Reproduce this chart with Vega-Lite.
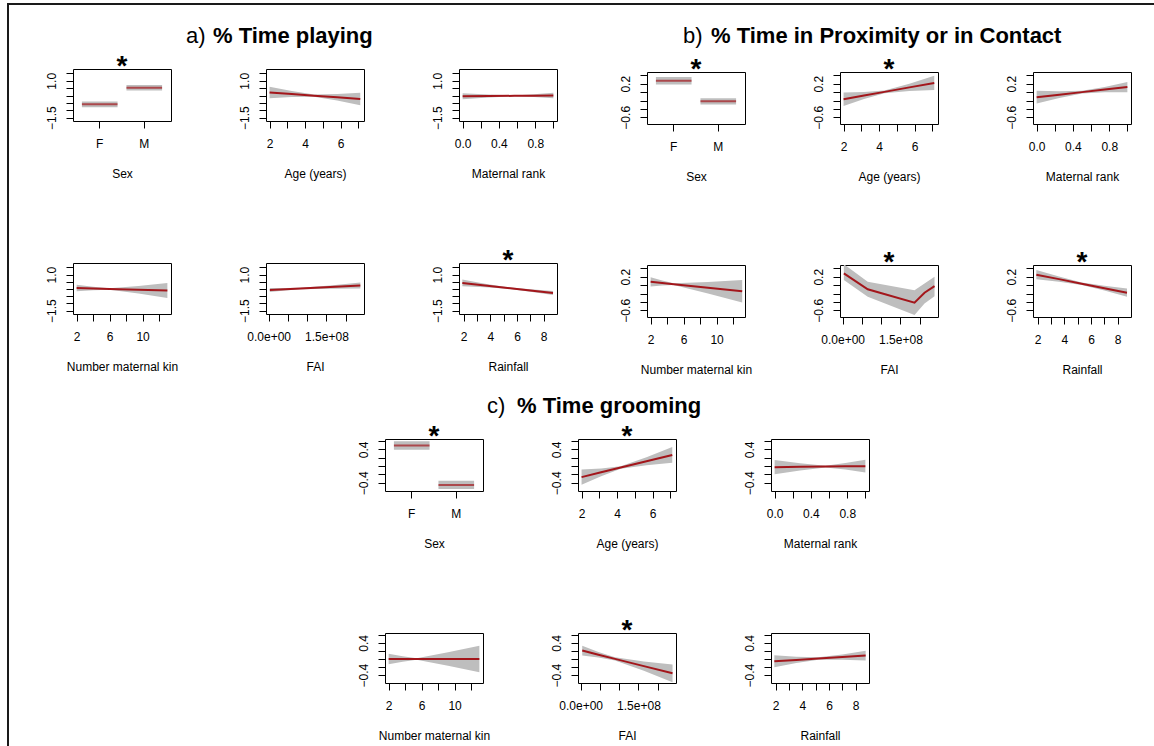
{
  "$schema": "https://vega.github.io/schema/vega-lite/v6.json",
  "padding": {"left": 7, "top": 3, "right": 0, "bottom": 0},
  "background": "white",
  "bounds": "flush",
  "spacing": 0,
  "datasets": {
    "fx": [
      {"g": "a", "v": "Sex", "sex": "F", "fit": -0.6, "lo": -0.79, "hi": -0.41},
      {"g": "a", "v": "Sex", "sex": "M", "fit": 0.53, "lo": 0.34, "hi": 0.72},
      {"g": "a", "v": "Age", "x": 2.0, "fit": 0.21, "lo": -0.18, "hi": 0.6},
      {"g": "a", "v": "Age", "x": 3.25, "fit": 0.1, "lo": -0.107, "hi": 0.307},
      {"g": "a", "v": "Age", "x": 4.5, "fit": -0.01, "lo": -0.09, "hi": 0.07},
      {"g": "a", "v": "Age", "x": 5.8, "fit": -0.125, "lo": -0.346, "hi": 0.096},
      {"g": "a", "v": "Age", "x": 7.1, "fit": -0.24, "lo": -0.66, "hi": 0.18},
      {"g": "a", "v": "Rank", "x": 0, "fit": -0.05, "lo": -0.25, "hi": 0.15},
      {"g": "a", "v": "Rank", "x": 0.285, "fit": -0.036, "lo": -0.139, "hi": 0.067},
      {"g": "a", "v": "Rank", "x": 0.57, "fit": -0.022, "lo": -0.052, "hi": 0.008},
      {"g": "a", "v": "Rank", "x": 0.785, "fit": -0.011, "lo": -0.105, "hi": 0.083},
      {"g": "a", "v": "Rank", "x": 1, "fit": 0, "lo": -0.18, "hi": 0.18},
      {"g": "a", "v": "Kin", "x": 2, "fit": 0.07, "lo": -0.16, "hi": 0.3},
      {"g": "a", "v": "Kin", "x": 4, "fit": 0.037, "lo": -0.086, "hi": 0.16},
      {"g": "a", "v": "Kin", "x": 6, "fit": 0.005, "lo": -0.045, "hi": 0.055},
      {"g": "a", "v": "Kin", "x": 9.5, "fit": -0.053, "lo": -0.317, "hi": 0.211},
      {"g": "a", "v": "Kin", "x": 13, "fit": -0.11, "lo": -0.63, "hi": 0.41},
      {"g": "a", "v": "FAI", "x": 3000000, "fit": -0.07, "lo": -0.21, "hi": 0.07},
      {"g": "a", "v": "FAI", "x": 43000000, "fit": -0.017, "lo": -0.099, "hi": 0.065},
      {"g": "a", "v": "FAI", "x": 82500000, "fit": 0.035, "lo": -0.015, "hi": 0.085},
      {"g": "a", "v": "FAI", "x": 160000000, "fit": 0.137, "lo": 0.024, "hi": 0.25},
      {"g": "a", "v": "FAI", "x": 238000000, "fit": 0.24, "lo": 0.03, "hi": 0.45},
      {"g": "a", "v": "Rain", "x": 1.9, "fit": 0.42, "lo": 0.19, "hi": 0.65},
      {"g": "a", "v": "Rain", "x": 3.6, "fit": 0.245, "lo": 0.122, "hi": 0.368},
      {"g": "a", "v": "Rain", "x": 5.3, "fit": 0.07, "lo": 0.02, "hi": 0.12},
      {"g": "a", "v": "Rain", "x": 7.0, "fit": -0.105, "lo": -0.187, "hi": -0.023},
      {"g": "a", "v": "Rain", "x": 8.7, "fit": -0.28, "lo": -0.42, "hi": -0.14},
      {"g": "b", "v": "Sex", "sex": "F", "fit": 0.27, "lo": 0.18, "hi": 0.36},
      {"g": "b", "v": "Sex", "sex": "M", "fit": -0.22, "lo": -0.295, "hi": -0.145},
      {"g": "b", "v": "Age", "x": 2.0, "fit": -0.17, "lo": -0.33, "hi": -0.01},
      {"g": "b", "v": "Age", "x": 3.15, "fit": -0.082, "lo": -0.166, "hi": 0.002},
      {"g": "b", "v": "Age", "x": 4.3, "fit": 0.006, "lo": -0.024, "hi": 0.036},
      {"g": "b", "v": "Age", "x": 5.7, "fit": 0.113, "lo": 0.024, "hi": 0.202},
      {"g": "b", "v": "Age", "x": 7.1, "fit": 0.22, "lo": 0.05, "hi": 0.39},
      {"g": "b", "v": "Rank", "x": 0, "fit": -0.12, "lo": -0.27, "hi": 0.03},
      {"g": "b", "v": "Rank", "x": 0.25, "fit": -0.06, "lo": -0.139, "hi": 0.019},
      {"g": "b", "v": "Rank", "x": 0.5, "fit": 0, "lo": -0.03, "hi": 0.03},
      {"g": "b", "v": "Rank", "x": 0.75, "fit": 0.06, "lo": -0.005, "hi": 0.125},
      {"g": "b", "v": "Rank", "x": 1, "fit": 0.12, "lo": 0, "hi": 0.24},
      {"g": "b", "v": "Kin", "x": 2, "fit": 0.08, "lo": -0.03, "hi": 0.19},
      {"g": "b", "v": "Kin", "x": 3.4, "fit": 0.052, "lo": -0.006, "hi": 0.11},
      {"g": "b", "v": "Kin", "x": 4.8, "fit": 0.023, "lo": 0.003, "hi": 0.043},
      {"g": "b", "v": "Kin", "x": 8.95, "fit": -0.061, "lo": -0.197, "hi": 0.075},
      {"g": "b", "v": "Kin", "x": 13.1, "fit": -0.145, "lo": -0.415, "hi": 0.125},
      {"g": "b", "v": "FAI", "x": 3000000, "fit": 0.28, "lo": 0.12, "hi": 0.5},
      {"g": "b", "v": "FAI", "x": 65000000, "fit": -0.1, "lo": -0.28, "hi": 0.08},
      {"g": "b", "v": "FAI", "x": 186500000, "fit": -0.42, "lo": -0.71, "hi": -0.12},
      {"g": "b", "v": "FAI", "x": 212500000, "fit": -0.18, "lo": -0.44, "hi": 0.04},
      {"g": "b", "v": "FAI", "x": 238500000, "fit": -0.025, "lo": -0.265, "hi": 0.2},
      {"g": "b", "v": "Rain", "x": 1.9, "fit": 0.25, "lo": 0.14, "hi": 0.36},
      {"g": "b", "v": "Rain", "x": 3.6, "fit": 0.143, "lo": 0.082, "hi": 0.204},
      {"g": "b", "v": "Rain", "x": 5.3, "fit": 0.035, "lo": 0.005, "hi": 0.065},
      {"g": "b", "v": "Rain", "x": 7.0, "fit": -0.072, "lo": -0.128, "hi": -0.016},
      {"g": "b", "v": "Rain", "x": 8.7, "fit": -0.18, "lo": -0.28, "hi": -0.08},
      {"g": "c", "v": "Sex", "sex": "F", "fit": 0.49, "lo": 0.39, "hi": 0.59},
      {"g": "c", "v": "Sex", "sex": "M", "fit": -0.45, "lo": -0.55, "hi": -0.35},
      {"g": "c", "v": "Age", "x": 2.0, "fit": -0.264, "lo": -0.444, "hi": -0.084},
      {"g": "c", "v": "Age", "x": 3.1, "fit": -0.15, "lo": -0.244, "hi": -0.056},
      {"g": "c", "v": "Age", "x": 4.2, "fit": -0.035, "lo": -0.065, "hi": -0.005},
      {"g": "c", "v": "Age", "x": 5.65, "fit": 0.115, "lo": 0.017, "hi": 0.213},
      {"g": "c", "v": "Age", "x": 7.1, "fit": 0.266, "lo": 0.076, "hi": 0.456},
      {"g": "c", "v": "Rank", "x": 0, "fit": -0.026, "lo": -0.196, "hi": 0.144},
      {"g": "c", "v": "Rank", "x": 0.28, "fit": -0.019, "lo": -0.106, "hi": 0.068},
      {"g": "c", "v": "Rank", "x": 0.56, "fit": -0.013, "lo": -0.033, "hi": 0.007},
      {"g": "c", "v": "Rank", "x": 0.78, "fit": -0.007, "lo": -0.084, "hi": 0.07},
      {"g": "c", "v": "Rank", "x": 1, "fit": -0.002, "lo": -0.152, "hi": 0.148},
      {"g": "c", "v": "Kin", "x": 2, "fit": 0, "lo": -0.13, "hi": 0.13},
      {"g": "c", "v": "Kin", "x": 3.7, "fit": 0, "lo": -0.067, "hi": 0.067},
      {"g": "c", "v": "Kin", "x": 5.4, "fit": 0, "lo": -0.02, "hi": 0.02},
      {"g": "c", "v": "Kin", "x": 9.2, "fit": 0, "lo": -0.166, "hi": 0.166},
      {"g": "c", "v": "Kin", "x": 13, "fit": 0, "lo": -0.33, "hi": 0.33},
      {"g": "c", "v": "FAI", "x": 4000000, "fit": 0.21, "lo": 0.09, "hi": 0.33},
      {"g": "c", "v": "FAI", "x": 46000000, "fit": 0.107, "lo": 0.038, "hi": 0.176},
      {"g": "c", "v": "FAI", "x": 89000000, "fit": 0.003, "lo": -0.037, "hi": 0.043},
      {"g": "c", "v": "FAI", "x": 164000000, "fit": -0.177, "lo": -0.292, "hi": -0.062},
      {"g": "c", "v": "FAI", "x": 238500000, "fit": -0.355, "lo": -0.575, "hi": -0.135},
      {"g": "c", "v": "Rain", "x": 1.9, "fit": -0.057, "lo": -0.207, "hi": 0.093},
      {"g": "c", "v": "Rain", "x": 3.55, "fit": -0.023, "lo": -0.102, "hi": 0.056},
      {"g": "c", "v": "Rain", "x": 5.2, "fit": 0.011, "lo": -0.019, "hi": 0.041},
      {"g": "c", "v": "Rain", "x": 7.0, "fit": 0.048, "lo": -0.017, "hi": 0.113},
      {"g": "c", "v": "Rain", "x": 8.75, "fit": 0.085, "lo": -0.035, "hi": 0.205}
    ]
  },
  "config": {
    "font": "Liberation Sans",
    "view": {"stroke": "black", "strokeWidth": 1},
    "axis": {"grid": false, "domain": false, "ticks": true, "tickColor": "black", "tickSize": 7, "tickWidth": 1, "labelFont": "Liberation Sans", "labelFontSize": 12, "labelColor": "black", "labelOverlap": false, "labelFlush": false, "titleFont": "Liberation Sans", "titleFontSize": 12, "titleFontWeight": "normal", "titleColor": "black"},
    "axisX": {"labelPadding": 10, "titlePadding": 19.5},
    "axisY": {"labelAngle": 270, "labelAlign": "center", "labelBaseline": "alphabetic", "labelPadding": 11},
    "area": {"color": "#bebebe"},
    "bar": {"color": "#bebebe"},
    "line": {"color": "#a3161b", "strokeWidth": 2},
    "tick": {"color": "#a3161b"},
    "title": {"font": "Liberation Sans", "fontSize": 28, "fontWeight": "bold", "color": "black", "anchor": "middle", "frame": "group", "offset": -12}
  },
  "vconcat": [
    {"bounds": "flush", "spacing": 0, "hconcat": [
      {"width": 1160, "height": 760, "view": {"stroke": "#1a1a1a", "strokeWidth": 2}, "data": {"values": []}, "mark": "point", "encoding": {}}
    ]},
    {"width": 1, "height": 43.9, "view": {"stroke": null}, "data": {"values": []}, "mark": "point", "encoding": {}},
    {"bounds": "flush", "spacing": 0, "hconcat": [
      {"width": 177.7, "height": 1, "view": {"stroke": null}, "data": {"values": []}, "mark": "point", "encoding": {}},
      {"width": 26.3, "height": 1, "view": {"stroke": null}, "data": {"values": []}, "mark": "point", "encoding": {}, "title": {"text": "a)", "fontSize": 22, "fontWeight": "normal", "anchor": "start", "offset": 0}},
      {"width": 1, "height": 1, "view": {"stroke": null}, "data": {"values": []}, "mark": "point", "encoding": {}, "title": {"text": "% Time playing", "fontSize": 22, "fontWeight": "bold", "anchor": "start", "offset": 0}},
      {"width": 468.7, "height": 1, "view": {"stroke": null}, "data": {"values": []}, "mark": "point", "encoding": {}},
      {"width": 27.3, "height": 1, "view": {"stroke": null}, "data": {"values": []}, "mark": "point", "encoding": {}, "title": {"text": "b)", "fontSize": 22, "fontWeight": "normal", "anchor": "start", "offset": 0}},
      {"width": 1, "height": 1, "view": {"stroke": null}, "data": {"values": []}, "mark": "point", "encoding": {}, "title": {"text": "% Time in Proximity or in Contact", "fontSize": 22, "fontWeight": "bold", "anchor": "start", "offset": 0}}
    ]},
    {"width": 1, "height": 20.4, "view": {"stroke": null}, "data": {"values": []}, "mark": "point", "encoding": {}},
    {"bounds": "flush", "spacing": 0, "hconcat": [
      {"width": 65, "height": 1, "view": {"stroke": null}, "data": {"values": []}, "mark": "point", "encoding": {}},
      {"width": 98, "height": 52, "title": "*", "data": {"name": "fx"}, "transform": [{"filter": "datum.g=='a' && datum.v=='Sex'"}],
       "encoding": {"x": {"field": "sex", "type": "nominal", "scale": {"type": "band", "paddingInner": 0.2, "paddingOuter": 0.2}, "axis": {"title": "Sex", "labelAngle": 0}}},
       "layer": [
         {"mark": {"type": "bar", "clip": true}, "encoding": {"y": {"field": "lo", "type": "quantitative", "scale": {"domain": [-1.73, 1.8], "nice": false, "zero": false}, "axis": {"title": null, "values": [-1.5, -1, -0.5, 0, 0.5, 1, 1.5], "labelExpr": "datum.value == 1 ? '1.0' : datum.value == -1.5 ? '−1.5' : ''"}}, "y2": {"field": "hi"}}},
         {"mark": {"type": "tick", "size": 35.6, "thickness": 2, "clip": true}, "encoding": {"y": {"field": "fit", "type": "quantitative", "scale": {"domain": [-1.73, 1.8], "nice": false, "zero": false}, "axis": {"title": null, "values": [-1.5, -1, -0.5, 0, 0.5, 1, 1.5], "labelExpr": "datum.value == 1 ? '1.0' : datum.value == -1.5 ? '−1.5' : ''"}}}}
       ]},
      {"width": 94.5, "height": 1, "view": {"stroke": null}, "data": {"values": []}, "mark": "point", "encoding": {}},
      {"width": 98, "height": 52, "data": {"name": "fx"}, "transform": [{"filter": "datum.g=='a' && datum.v=='Age'"}],
       "encoding": {"x": {"field": "x", "type": "quantitative", "scale": {"domain": [1.8, 7.31], "nice": false, "zero": false}, "axis": {"title": "Age (years)", "values": [2, 3, 4, 5, 6, 7], "labelExpr": "datum.value % 2 == 0 ? datum.label : ''"}}},
       "layer": [
         {"mark": {"type": "area", "clip": true}, "encoding": {"y": {"field": "lo", "type": "quantitative", "scale": {"domain": [-1.73, 1.8], "nice": false, "zero": false}, "axis": {"title": null, "values": [-1.5, -1, -0.5, 0, 0.5, 1, 1.5], "labelExpr": "datum.value == 1 ? '1.0' : datum.value == -1.5 ? '−1.5' : ''"}}, "y2": {"field": "hi"}}},
         {"mark": {"type": "line", "clip": true}, "encoding": {"y": {"field": "fit", "type": "quantitative", "scale": {"domain": [-1.73, 1.8], "nice": false, "zero": false}, "axis": {"title": null, "values": [-1.5, -1, -0.5, 0, 0.5, 1, 1.5], "labelExpr": "datum.value == 1 ? '1.0' : datum.value == -1.5 ? '−1.5' : ''"}}}}
       ]},
      {"width": 94.5, "height": 1, "view": {"stroke": null}, "data": {"values": []}, "mark": "point", "encoding": {}},
      {"width": 98, "height": 52, "data": {"name": "fx"}, "transform": [{"filter": "datum.g=='a' && datum.v=='Rank'"}],
       "encoding": {"x": {"field": "x", "type": "quantitative", "scale": {"domain": [-0.04, 1.04], "nice": false, "zero": false}, "axis": {"title": "Maternal rank", "values": [0, 0.2, 0.4, 0.6, 0.8, 1], "labelExpr": "datum.value == 0 ? '0.0' : (datum.value == 0.4 || datum.value == 0.8) ? datum.label : ''"}}},
       "layer": [
         {"mark": {"type": "area", "clip": true}, "encoding": {"y": {"field": "lo", "type": "quantitative", "scale": {"domain": [-1.73, 1.8], "nice": false, "zero": false}, "axis": {"title": null, "values": [-1.5, -1, -0.5, 0, 0.5, 1, 1.5], "labelExpr": "datum.value == 1 ? '1.0' : datum.value == -1.5 ? '−1.5' : ''"}}, "y2": {"field": "hi"}}},
         {"mark": {"type": "line", "clip": true}, "encoding": {"y": {"field": "fit", "type": "quantitative", "scale": {"domain": [-1.73, 1.8], "nice": false, "zero": false}, "axis": {"title": null, "values": [-1.5, -1, -0.5, 0, 0.5, 1, 1.5], "labelExpr": "datum.value == 1 ? '1.0' : datum.value == -1.5 ? '−1.5' : ''"}}}}
       ]}
    ]},
    {"width": 1, "height": 2.4, "view": {"stroke": null}, "data": {"values": []}, "mark": "point", "encoding": {}},
    {"bounds": "flush", "spacing": 0, "hconcat": [
      {"width": 638.7, "height": 1, "view": {"stroke": null}, "data": {"values": []}, "mark": "point", "encoding": {}},
      {"width": 98, "height": 52, "title": "*", "data": {"name": "fx"}, "transform": [{"filter": "datum.g=='b' && datum.v=='Sex'"}],
       "encoding": {"x": {"field": "sex", "type": "nominal", "scale": {"type": "band", "paddingInner": 0.2, "paddingOuter": 0.2}, "axis": {"title": "Sex", "labelAngle": 0}}},
       "layer": [
         {"mark": {"type": "bar", "clip": true}, "encoding": {"y": {"field": "lo", "type": "quantitative", "scale": {"domain": [-0.76, 0.48], "nice": false, "zero": false}, "axis": {"title": null, "values": [-0.6, -0.4, -0.2, 0, 0.2, 0.4], "labelExpr": "datum.value == 0.2 ? '0.2' : datum.value == -0.6 ? '−0.6' : ''"}}, "y2": {"field": "hi"}}},
         {"mark": {"type": "tick", "size": 35.6, "thickness": 2, "clip": true}, "encoding": {"y": {"field": "fit", "type": "quantitative", "scale": {"domain": [-0.76, 0.48], "nice": false, "zero": false}, "axis": {"title": null, "values": [-0.6, -0.4, -0.2, 0, 0.2, 0.4], "labelExpr": "datum.value == 0.2 ? '0.2' : datum.value == -0.6 ? '−0.6' : ''"}}}}
       ]},
      {"width": 94.5, "height": 1, "view": {"stroke": null}, "data": {"values": []}, "mark": "point", "encoding": {}},
      {"width": 98, "height": 52, "title": "*", "data": {"name": "fx"}, "transform": [{"filter": "datum.g=='b' && datum.v=='Age'"}],
       "encoding": {"x": {"field": "x", "type": "quantitative", "scale": {"domain": [1.8, 7.31], "nice": false, "zero": false}, "axis": {"title": "Age (years)", "values": [2, 3, 4, 5, 6, 7], "labelExpr": "datum.value % 2 == 0 ? datum.label : ''"}}},
       "layer": [
         {"mark": {"type": "area", "clip": true}, "encoding": {"y": {"field": "lo", "type": "quantitative", "scale": {"domain": [-0.76, 0.48], "nice": false, "zero": false}, "axis": {"title": null, "values": [-0.6, -0.4, -0.2, 0, 0.2, 0.4], "labelExpr": "datum.value == 0.2 ? '0.2' : datum.value == -0.6 ? '−0.6' : ''"}}, "y2": {"field": "hi"}}},
         {"mark": {"type": "line", "clip": true}, "encoding": {"y": {"field": "fit", "type": "quantitative", "scale": {"domain": [-0.76, 0.48], "nice": false, "zero": false}, "axis": {"title": null, "values": [-0.6, -0.4, -0.2, 0, 0.2, 0.4], "labelExpr": "datum.value == 0.2 ? '0.2' : datum.value == -0.6 ? '−0.6' : ''"}}}}
       ]},
      {"width": 94.5, "height": 1, "view": {"stroke": null}, "data": {"values": []}, "mark": "point", "encoding": {}},
      {"width": 98, "height": 52, "data": {"name": "fx"}, "transform": [{"filter": "datum.g=='b' && datum.v=='Rank'"}],
       "encoding": {"x": {"field": "x", "type": "quantitative", "scale": {"domain": [-0.04, 1.04], "nice": false, "zero": false}, "axis": {"title": "Maternal rank", "values": [0, 0.2, 0.4, 0.6, 0.8, 1], "labelExpr": "datum.value == 0 ? '0.0' : (datum.value == 0.4 || datum.value == 0.8) ? datum.label : ''"}}},
       "layer": [
         {"mark": {"type": "area", "clip": true}, "encoding": {"y": {"field": "lo", "type": "quantitative", "scale": {"domain": [-0.76, 0.48], "nice": false, "zero": false}, "axis": {"title": null, "values": [-0.6, -0.4, -0.2, 0, 0.2, 0.4], "labelExpr": "datum.value == 0.2 ? '0.2' : datum.value == -0.6 ? '−0.6' : ''"}}, "y2": {"field": "hi"}}},
         {"mark": {"type": "line", "clip": true}, "encoding": {"y": {"field": "fit", "type": "quantitative", "scale": {"domain": [-0.76, 0.48], "nice": false, "zero": false}, "axis": {"title": null, "values": [-0.6, -0.4, -0.2, 0, 0.2, 0.4], "labelExpr": "datum.value == 0.2 ? '0.2' : datum.value == -0.6 ? '−0.6' : ''"}}}}
       ]}
    ]},
    {"width": 1, "height": 191, "view": {"stroke": null}, "data": {"values": []}, "mark": "point", "encoding": {}},
    {"bounds": "flush", "spacing": 0, "hconcat": [
      {"width": 65, "height": 1, "view": {"stroke": null}, "data": {"values": []}, "mark": "point", "encoding": {}},
      {"width": 98, "height": 51, "data": {"name": "fx"}, "transform": [{"filter": "datum.g=='a' && datum.v=='Kin'"}],
       "encoding": {"x": {"field": "x", "type": "quantitative", "scale": {"domain": [1.56, 13.44], "nice": false, "zero": false}, "axis": {"title": "Number maternal kin", "values": [2, 4, 6, 8, 10, 12], "labelExpr": "(datum.value == 2 || datum.value == 6 || datum.value == 10) ? datum.label : ''"}}},
       "layer": [
         {"mark": {"type": "area", "clip": true}, "encoding": {"y": {"field": "lo", "type": "quantitative", "scale": {"domain": [-1.73, 1.8], "nice": false, "zero": false}, "axis": {"title": null, "values": [-1.5, -1, -0.5, 0, 0.5, 1, 1.5], "labelExpr": "datum.value == 1 ? '1.0' : datum.value == -1.5 ? '−1.5' : ''"}}, "y2": {"field": "hi"}}},
         {"mark": {"type": "line", "clip": true}, "encoding": {"y": {"field": "fit", "type": "quantitative", "scale": {"domain": [-1.73, 1.8], "nice": false, "zero": false}, "axis": {"title": null, "values": [-1.5, -1, -0.5, 0, 0.5, 1, 1.5], "labelExpr": "datum.value == 1 ? '1.0' : datum.value == -1.5 ? '−1.5' : ''"}}}}
       ]},
      {"width": 94.5, "height": 1, "view": {"stroke": null}, "data": {"values": []}, "mark": "point", "encoding": {}},
      {"width": 98, "height": 51, "data": {"name": "fx"}, "transform": [{"filter": "datum.g=='a' && datum.v=='FAI'"}],
       "encoding": {"x": {"field": "x", "type": "quantitative", "scale": {"domain": [-7000000, 247500000], "nice": false, "zero": false}, "axis": {"title": "FAI", "values": [0, 50000000, 100000000, 150000000, 200000000], "labelExpr": "datum.value == 0 ? '0.0e+00' : datum.value == 150000000 ? '1.5e+08' : ''"}}},
       "layer": [
         {"mark": {"type": "area", "clip": true}, "encoding": {"y": {"field": "lo", "type": "quantitative", "scale": {"domain": [-1.73, 1.8], "nice": false, "zero": false}, "axis": {"title": null, "values": [-1.5, -1, -0.5, 0, 0.5, 1, 1.5], "labelExpr": "datum.value == 1 ? '1.0' : datum.value == -1.5 ? '−1.5' : ''"}}, "y2": {"field": "hi"}}},
         {"mark": {"type": "line", "clip": true}, "encoding": {"y": {"field": "fit", "type": "quantitative", "scale": {"domain": [-1.73, 1.8], "nice": false, "zero": false}, "axis": {"title": null, "values": [-1.5, -1, -0.5, 0, 0.5, 1, 1.5], "labelExpr": "datum.value == 1 ? '1.0' : datum.value == -1.5 ? '−1.5' : ''"}}}}
       ]},
      {"width": 94.5, "height": 1, "view": {"stroke": null}, "data": {"values": []}, "mark": "point", "encoding": {}},
      {"width": 98, "height": 51, "title": "*", "data": {"name": "fx"}, "transform": [{"filter": "datum.g=='a' && datum.v=='Rain'"}],
       "encoding": {"x": {"field": "x", "type": "quantitative", "scale": {"domain": [1.65, 9.0], "nice": false, "zero": false}, "axis": {"title": "Rainfall", "values": [2, 3, 4, 5, 6, 7, 8], "labelExpr": "datum.value % 2 == 0 ? datum.label : ''"}}},
       "layer": [
         {"mark": {"type": "area", "clip": true}, "encoding": {"y": {"field": "lo", "type": "quantitative", "scale": {"domain": [-1.73, 1.8], "nice": false, "zero": false}, "axis": {"title": null, "values": [-1.5, -1, -0.5, 0, 0.5, 1, 1.5], "labelExpr": "datum.value == 1 ? '1.0' : datum.value == -1.5 ? '−1.5' : ''"}}, "y2": {"field": "hi"}}},
         {"mark": {"type": "line", "clip": true}, "encoding": {"y": {"field": "fit", "type": "quantitative", "scale": {"domain": [-1.73, 1.8], "nice": false, "zero": false}, "axis": {"title": null, "values": [-1.5, -1, -0.5, 0, 0.5, 1, 1.5], "labelExpr": "datum.value == 1 ? '1.0' : datum.value == -1.5 ? '−1.5' : ''"}}}}
       ]}
    ]},
    {"width": 1, "height": 1.6, "view": {"stroke": null}, "data": {"values": []}, "mark": "point", "encoding": {}},
    {"bounds": "flush", "spacing": 0, "hconcat": [
      {"width": 638.7, "height": 1, "view": {"stroke": null}, "data": {"values": []}, "mark": "point", "encoding": {}},
      {"width": 98, "height": 52, "data": {"name": "fx"}, "transform": [{"filter": "datum.g=='b' && datum.v=='Kin'"}],
       "encoding": {"x": {"field": "x", "type": "quantitative", "scale": {"domain": [1.56, 13.44], "nice": false, "zero": false}, "axis": {"title": "Number maternal kin", "values": [2, 4, 6, 8, 10, 12], "labelExpr": "(datum.value == 2 || datum.value == 6 || datum.value == 10) ? datum.label : ''"}}},
       "layer": [
         {"mark": {"type": "area", "clip": true}, "encoding": {"y": {"field": "lo", "type": "quantitative", "scale": {"domain": [-0.76, 0.48], "nice": false, "zero": false}, "axis": {"title": null, "values": [-0.6, -0.4, -0.2, 0, 0.2, 0.4], "labelExpr": "datum.value == 0.2 ? '0.2' : datum.value == -0.6 ? '−0.6' : ''"}}, "y2": {"field": "hi"}}},
         {"mark": {"type": "line", "clip": true}, "encoding": {"y": {"field": "fit", "type": "quantitative", "scale": {"domain": [-0.76, 0.48], "nice": false, "zero": false}, "axis": {"title": null, "values": [-0.6, -0.4, -0.2, 0, 0.2, 0.4], "labelExpr": "datum.value == 0.2 ? '0.2' : datum.value == -0.6 ? '−0.6' : ''"}}}}
       ]},
      {"width": 94.5, "height": 1, "view": {"stroke": null}, "data": {"values": []}, "mark": "point", "encoding": {}},
      {"width": 98, "height": 52, "title": "*", "data": {"name": "fx"}, "transform": [{"filter": "datum.g=='b' && datum.v=='FAI'"}],
       "encoding": {"x": {"field": "x", "type": "quantitative", "scale": {"domain": [-7000000, 247500000], "nice": false, "zero": false}, "axis": {"title": "FAI", "values": [0, 50000000, 100000000, 150000000, 200000000], "labelExpr": "datum.value == 0 ? '0.0e+00' : datum.value == 150000000 ? '1.5e+08' : ''"}}},
       "layer": [
         {"mark": {"type": "area", "clip": true}, "encoding": {"y": {"field": "lo", "type": "quantitative", "scale": {"domain": [-0.76, 0.48], "nice": false, "zero": false}, "axis": {"title": null, "values": [-0.6, -0.4, -0.2, 0, 0.2, 0.4], "labelExpr": "datum.value == 0.2 ? '0.2' : datum.value == -0.6 ? '−0.6' : ''"}}, "y2": {"field": "hi"}}},
         {"mark": {"type": "line", "clip": true}, "encoding": {"y": {"field": "fit", "type": "quantitative", "scale": {"domain": [-0.76, 0.48], "nice": false, "zero": false}, "axis": {"title": null, "values": [-0.6, -0.4, -0.2, 0, 0.2, 0.4], "labelExpr": "datum.value == 0.2 ? '0.2' : datum.value == -0.6 ? '−0.6' : ''"}}}}
       ]},
      {"width": 94.5, "height": 1, "view": {"stroke": null}, "data": {"values": []}, "mark": "point", "encoding": {}},
      {"width": 98, "height": 52, "title": "*", "data": {"name": "fx"}, "transform": [{"filter": "datum.g=='b' && datum.v=='Rain'"}],
       "encoding": {"x": {"field": "x", "type": "quantitative", "scale": {"domain": [1.65, 9.0], "nice": false, "zero": false}, "axis": {"title": "Rainfall", "values": [2, 3, 4, 5, 6, 7, 8], "labelExpr": "datum.value % 2 == 0 ? datum.label : ''"}}},
       "layer": [
         {"mark": {"type": "area", "clip": true}, "encoding": {"y": {"field": "lo", "type": "quantitative", "scale": {"domain": [-0.76, 0.48], "nice": false, "zero": false}, "axis": {"title": null, "values": [-0.6, -0.4, -0.2, 0, 0.2, 0.4], "labelExpr": "datum.value == 0.2 ? '0.2' : datum.value == -0.6 ? '−0.6' : ''"}}, "y2": {"field": "hi"}}},
         {"mark": {"type": "line", "clip": true}, "encoding": {"y": {"field": "fit", "type": "quantitative", "scale": {"domain": [-0.76, 0.48], "nice": false, "zero": false}, "axis": {"title": null, "values": [-0.6, -0.4, -0.2, 0, 0.2, 0.4], "labelExpr": "datum.value == 0.2 ? '0.2' : datum.value == -0.6 ? '−0.6' : ''"}}}}
       ]}
    ]},
    {"width": 1, "height": 153, "view": {"stroke": null}, "data": {"values": []}, "mark": "point", "encoding": {}},
    {"bounds": "flush", "spacing": 0, "hconcat": [
      {"width": 478.7, "height": 1, "view": {"stroke": null}, "data": {"values": []}, "mark": "point", "encoding": {}},
      {"width": 30, "height": 1, "view": {"stroke": null}, "data": {"values": []}, "mark": "point", "encoding": {}, "title": {"text": "c)", "fontSize": 22, "fontWeight": "normal", "anchor": "start", "offset": 0}},
      {"width": 1, "height": 1, "view": {"stroke": null}, "data": {"values": []}, "mark": "point", "encoding": {}, "title": {"text": "% Time grooming", "fontSize": 22, "fontWeight": "bold", "anchor": "start", "offset": 0}}
    ]},
    {"width": 1, "height": 20.2, "view": {"stroke": null}, "data": {"values": []}, "mark": "point", "encoding": {}},
    {"bounds": "flush", "spacing": 0, "hconcat": [
      {"width": 376.5, "height": 1, "view": {"stroke": null}, "data": {"values": []}, "mark": "point", "encoding": {}},
      {"width": 98, "height": 52, "title": "*", "data": {"name": "fx"}, "transform": [{"filter": "datum.g=='c' && datum.v=='Sex'"}],
       "encoding": {"x": {"field": "sex", "type": "nominal", "scale": {"type": "band", "paddingInner": 0.2, "paddingOuter": 0.2}, "axis": {"title": "Sex", "labelAngle": 0}}},
       "layer": [
         {"mark": {"type": "bar", "clip": true}, "encoding": {"y": {"field": "lo", "type": "quantitative", "scale": {"domain": [-0.596, 0.646], "nice": false, "zero": false}, "axis": {"title": null, "values": [-0.4, -0.2, 0, 0.2, 0.4, 0.6], "labelExpr": "datum.value == 0.4 ? '0.4' : datum.value == -0.4 ? '−0.4' : ''"}}, "y2": {"field": "hi"}}},
         {"mark": {"type": "tick", "size": 35.6, "thickness": 2, "clip": true}, "encoding": {"y": {"field": "fit", "type": "quantitative", "scale": {"domain": [-0.596, 0.646], "nice": false, "zero": false}, "axis": {"title": null, "values": [-0.4, -0.2, 0, 0.2, 0.4, 0.6], "labelExpr": "datum.value == 0.4 ? '0.4' : datum.value == -0.4 ? '−0.4' : ''"}}}}
       ]},
      {"width": 94.5, "height": 1, "view": {"stroke": null}, "data": {"values": []}, "mark": "point", "encoding": {}},
      {"width": 98, "height": 52, "title": "*", "data": {"name": "fx"}, "transform": [{"filter": "datum.g=='c' && datum.v=='Age'"}],
       "encoding": {"x": {"field": "x", "type": "quantitative", "scale": {"domain": [1.8, 7.31], "nice": false, "zero": false}, "axis": {"title": "Age (years)", "values": [2, 3, 4, 5, 6, 7], "labelExpr": "datum.value % 2 == 0 ? datum.label : ''"}}},
       "layer": [
         {"mark": {"type": "area", "clip": true}, "encoding": {"y": {"field": "lo", "type": "quantitative", "scale": {"domain": [-0.596, 0.646], "nice": false, "zero": false}, "axis": {"title": null, "values": [-0.4, -0.2, 0, 0.2, 0.4, 0.6], "labelExpr": "datum.value == 0.4 ? '0.4' : datum.value == -0.4 ? '−0.4' : ''"}}, "y2": {"field": "hi"}}},
         {"mark": {"type": "line", "clip": true}, "encoding": {"y": {"field": "fit", "type": "quantitative", "scale": {"domain": [-0.596, 0.646], "nice": false, "zero": false}, "axis": {"title": null, "values": [-0.4, -0.2, 0, 0.2, 0.4, 0.6], "labelExpr": "datum.value == 0.4 ? '0.4' : datum.value == -0.4 ? '−0.4' : ''"}}}}
       ]},
      {"width": 94.5, "height": 1, "view": {"stroke": null}, "data": {"values": []}, "mark": "point", "encoding": {}},
      {"width": 98, "height": 52, "data": {"name": "fx"}, "transform": [{"filter": "datum.g=='c' && datum.v=='Rank'"}],
       "encoding": {"x": {"field": "x", "type": "quantitative", "scale": {"domain": [-0.04, 1.04], "nice": false, "zero": false}, "axis": {"title": "Maternal rank", "values": [0, 0.2, 0.4, 0.6, 0.8, 1], "labelExpr": "datum.value == 0 ? '0.0' : (datum.value == 0.4 || datum.value == 0.8) ? datum.label : ''"}}},
       "layer": [
         {"mark": {"type": "area", "clip": true}, "encoding": {"y": {"field": "lo", "type": "quantitative", "scale": {"domain": [-0.596, 0.646], "nice": false, "zero": false}, "axis": {"title": null, "values": [-0.4, -0.2, 0, 0.2, 0.4, 0.6], "labelExpr": "datum.value == 0.4 ? '0.4' : datum.value == -0.4 ? '−0.4' : ''"}}, "y2": {"field": "hi"}}},
         {"mark": {"type": "line", "clip": true}, "encoding": {"y": {"field": "fit", "type": "quantitative", "scale": {"domain": [-0.596, 0.646], "nice": false, "zero": false}, "axis": {"title": null, "values": [-0.4, -0.2, 0, 0.2, 0.4, 0.6], "labelExpr": "datum.value == 0.4 ? '0.4' : datum.value == -0.4 ? '−0.4' : ''"}}}}
       ]}
    ]},
    {"width": 1, "height": 194, "view": {"stroke": null}, "data": {"values": []}, "mark": "point", "encoding": {}},
    {"bounds": "flush", "spacing": 0, "hconcat": [
      {"width": 376.5, "height": 1, "view": {"stroke": null}, "data": {"values": []}, "mark": "point", "encoding": {}},
      {"width": 98, "height": 50, "data": {"name": "fx"}, "transform": [{"filter": "datum.g=='c' && datum.v=='Kin'"}],
       "encoding": {"x": {"field": "x", "type": "quantitative", "scale": {"domain": [1.56, 13.44], "nice": false, "zero": false}, "axis": {"title": "Number maternal kin", "values": [2, 4, 6, 8, 10, 12], "labelExpr": "(datum.value == 2 || datum.value == 6 || datum.value == 10) ? datum.label : ''"}}},
       "layer": [
         {"mark": {"type": "area", "clip": true}, "encoding": {"y": {"field": "lo", "type": "quantitative", "scale": {"domain": [-0.596, 0.646], "nice": false, "zero": false}, "axis": {"title": null, "values": [-0.4, -0.2, 0, 0.2, 0.4, 0.6], "labelExpr": "datum.value == 0.4 ? '0.4' : datum.value == -0.4 ? '−0.4' : ''"}}, "y2": {"field": "hi"}}},
         {"mark": {"type": "line", "clip": true}, "encoding": {"y": {"field": "fit", "type": "quantitative", "scale": {"domain": [-0.596, 0.646], "nice": false, "zero": false}, "axis": {"title": null, "values": [-0.4, -0.2, 0, 0.2, 0.4, 0.6], "labelExpr": "datum.value == 0.4 ? '0.4' : datum.value == -0.4 ? '−0.4' : ''"}}}}
       ]},
      {"width": 94.5, "height": 1, "view": {"stroke": null}, "data": {"values": []}, "mark": "point", "encoding": {}},
      {"width": 98, "height": 50, "title": "*", "data": {"name": "fx"}, "transform": [{"filter": "datum.g=='c' && datum.v=='FAI'"}],
       "encoding": {"x": {"field": "x", "type": "quantitative", "scale": {"domain": [-7000000, 247500000], "nice": false, "zero": false}, "axis": {"title": "FAI", "values": [0, 50000000, 100000000, 150000000, 200000000], "labelExpr": "datum.value == 0 ? '0.0e+00' : datum.value == 150000000 ? '1.5e+08' : ''"}}},
       "layer": [
         {"mark": {"type": "area", "clip": true}, "encoding": {"y": {"field": "lo", "type": "quantitative", "scale": {"domain": [-0.596, 0.646], "nice": false, "zero": false}, "axis": {"title": null, "values": [-0.4, -0.2, 0, 0.2, 0.4, 0.6], "labelExpr": "datum.value == 0.4 ? '0.4' : datum.value == -0.4 ? '−0.4' : ''"}}, "y2": {"field": "hi"}}},
         {"mark": {"type": "line", "clip": true}, "encoding": {"y": {"field": "fit", "type": "quantitative", "scale": {"domain": [-0.596, 0.646], "nice": false, "zero": false}, "axis": {"title": null, "values": [-0.4, -0.2, 0, 0.2, 0.4, 0.6], "labelExpr": "datum.value == 0.4 ? '0.4' : datum.value == -0.4 ? '−0.4' : ''"}}}}
       ]},
      {"width": 94.5, "height": 1, "view": {"stroke": null}, "data": {"values": []}, "mark": "point", "encoding": {}},
      {"width": 98, "height": 50, "data": {"name": "fx"}, "transform": [{"filter": "datum.g=='c' && datum.v=='Rain'"}],
       "encoding": {"x": {"field": "x", "type": "quantitative", "scale": {"domain": [1.65, 9.0], "nice": false, "zero": false}, "axis": {"title": "Rainfall", "values": [2, 3, 4, 5, 6, 7, 8], "labelExpr": "datum.value % 2 == 0 ? datum.label : ''"}}},
       "layer": [
         {"mark": {"type": "area", "clip": true}, "encoding": {"y": {"field": "lo", "type": "quantitative", "scale": {"domain": [-0.596, 0.646], "nice": false, "zero": false}, "axis": {"title": null, "values": [-0.4, -0.2, 0, 0.2, 0.4, 0.6], "labelExpr": "datum.value == 0.4 ? '0.4' : datum.value == -0.4 ? '−0.4' : ''"}}, "y2": {"field": "hi"}}},
         {"mark": {"type": "line", "clip": true}, "encoding": {"y": {"field": "fit", "type": "quantitative", "scale": {"domain": [-0.596, 0.646], "nice": false, "zero": false}, "axis": {"title": null, "values": [-0.4, -0.2, 0, 0.2, 0.4, 0.6], "labelExpr": "datum.value == 0.4 ? '0.4' : datum.value == -0.4 ? '−0.4' : ''"}}}}
       ]}
    ]}
  ]
}
